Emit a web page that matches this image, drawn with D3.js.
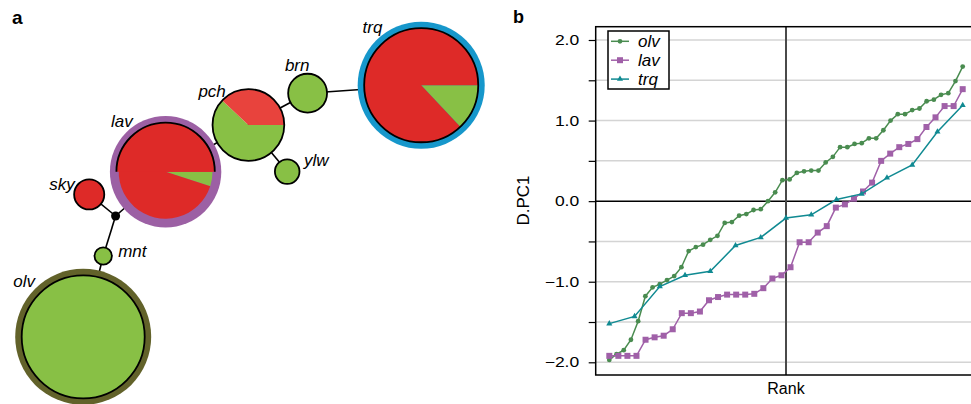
<!DOCTYPE html>
<html>
<head>
<meta charset="utf-8">
<script src="https://cdn.jsdelivr.net/npm/d3@7"></script>
<style>
body{margin:0;background:#fff;}
text{font-family:"Liberation Sans", Arial, Helvetica, sans-serif;}
</style>
</head>
<body>
<div id="chart"></div>
<script>
// panel a: haplotype network data
var nodeNames  = ["olv", "mnt", "sky", "lav", "pch", "ylw", "brn", "trq"];
var nodeCounts = [50, 1, 3, 32, 17, 2, 5, 43];
var greenShare = [1, 1, 0, 0.05, 0.62, 1, 1, 0.13];
// graph layout (layout units)
var layoutX = [20.8, 25.8, 22.3, 41.4, 62.1, 71.8, 76.9, 105.3];
var layoutY = [84.2, 64.0, 48.6, 42.95, 31.25, 42.9, 23.3, 21.3];
var junction = [28.9, 54.0];
var edges = [["olv","mnt"], ["mnt","*"], ["*","sky"], ["*","lav"], ["lav","pch"], ["pch","ylw"], ["pch","brn"], ["brn","trq"]];

// panel b: D.PC1 by rank
var seriesNames = ["olv", "lav", "trq"];
var olvValues = [-1.97, -1.90, -1.85, -1.72, -1.49, -1.18, -1.07, -1.03, -0.98, -0.93,
                 -0.82, -0.62, -0.57, -0.54, -0.48, -0.43, -0.27, -0.26, -0.18, -0.16,
                 -0.11, -0.10, 0.00, 0.11, 0.26, 0.27, 0.35, 0.37, 0.38, 0.38,
                 0.48, 0.55, 0.67, 0.67, 0.71, 0.72, 0.78, 0.78, 0.88, 1.00,
                 1.08, 1.08, 1.13, 1.15, 1.24, 1.26, 1.32, 1.34, 1.49, 1.67];
var lavValues = [-1.92, -1.92, -1.92, -1.92, -1.72, -1.69, -1.67, -1.59, -1.39, -1.39,
                 -1.37, -1.23, -1.19, -1.16, -1.16, -1.16, -1.15, -1.08, -0.96, -0.92,
                 -0.82, -0.51, -0.51, -0.39, -0.31, -0.08, -0.04, 0.03, 0.12, 0.23,
                 0.50, 0.59, 0.67, 0.71, 0.77, 0.92, 1.04, 1.18, 1.18, 1.39];
var trqValues = [-1.52, -1.43, -1.06, -0.92, -0.87, -0.55, -0.45, -0.21, -0.17, 0.02,
                 0.09, 0.29, 0.45, 0.86, 1.19];
var yTicks = [-2, -1.5, -1, -0.5, 0, 0.5, 1, 1.5, 2];

// colours and label placement
var green = "#88c045", red = "#de2a28", pchRed = "#e8433d";
var ringColor = {olv: "#62622a", lav: "#9c60a4", trq: "#1697cb"};
var labelOffset = {trq: [-58.6, -52], brn: [-22.7, -22.6], pch: [-50, -28.3], lav: [-54.7, -45.1],
                   sky: [-40, -4.3], ylw: [16.7, -6], mnt: [15, 0.7], olv: [-70, -49.4]};
var seriesColor = {olv: "#4a8c50", lav: "#a060a8", trq: "#108a92"};
var seriesSymbol = {olv: [d3.symbolCircle, 18], lav: [d3.symbolSquare, 36], trq: [d3.symbolTriangle, 16]};

var svg = d3.select("#chart").append("svg").attr("width", 971).attr("height", 404);

////////////////////
// Panel a network
////////////////////
var netX = d3.scaleLinear().domain([0, 125]).range([0, 500]);
var netY = d3.scaleLinear().domain([0, 101]).range([0, 404]);
var rScale = d3.scaleSqrt().domain([0, 50]).range([0, 61.5]);

function pos(name) {
    if (name == "*") return [netX(junction[0]), netY(junction[1])];
    var i = nodeNames.indexOf(name);
    return [netX(layoutX[i]), netY(layoutY[i])];
}

var gA = svg.append("g");
// edges go behind the nodes
gA.selectAll("line.edge").data(edges).enter().append("line").attr("class", "edge")
  .attr("x1", function(d){ return pos(d[0])[0]; }).attr("y1", function(d){ return pos(d[0])[1]; })
  .attr("x2", function(d){ return pos(d[1])[0]; }).attr("y2", function(d){ return pos(d[1])[1]; })
  .attr("stroke", "#000").attr("stroke-width", 1.6);

gA.append("circle").attr("cx", pos("*")[0]).attr("cy", pos("*")[1]).attr("r", 4.5).attr("fill", "#000");

var pie = d3.pie().sort(null).startAngle(Math.PI / 2).endAngle(Math.PI / 2 + 2 * Math.PI);

for (let i = 0; i < nodeNames.length; i++) {
    var name = nodeNames[i];
    var c = pos(name);
    var r = rScale(nodeCounts[i]);
    var g = gA.append("g").attr("transform", "translate(" + c[0] + "," + c[1] + ")");
    var redCol = name == "pch" ? pchRed : red;

    if (ringColor[name])
        g.append("circle").attr("r", r + 6.5).attr("fill", ringColor[name]);

    var pr = name == "lav" ? r - 2.3 : r;
    var slices = pie([greenShare[i], 1 - greenShare[i]]);
    var arc = d3.arc().innerRadius(0).outerRadius(pr);
    g.selectAll("path.slice").data(slices).enter().append("path").attr("class", "slice")
      .attr("d", arc).attr("fill", function(d, j){ return j == 0 ? green : redCol; });

    if (name == "lav") {
        // upper half drawn full size with outline only on top
        g.append("path").attr("d", d3.arc().innerRadius(0).outerRadius(r).startAngle(-Math.PI / 2).endAngle(Math.PI / 2)())
          .attr("fill", redCol);
        var p = d3.path(); p.arc(0, 0, r, Math.PI, 2 * Math.PI);
        g.append("path").attr("d", p.toString()).attr("fill", "none").attr("stroke", "#000").attr("stroke-width", 1.8);
    } else {
        g.append("circle").attr("r", r).attr("fill", "none").attr("stroke", "#000").attr("stroke-width", 1.8);
    }

    g.append("text").attr("x", labelOffset[name][0]).attr("y", labelOffset[name][1])
      .attr("font-size", 17).attr("font-style", "italic").text(name);
}

svg.append("text").attr("x", 12).attr("y", 24).attr("font-size", 19).attr("font-weight", "bold").text("a");

////////////////////
// Panel b rank plot
////////////////////
var frame = {left: 595.7, top: 26.7, right: 976.3, bottom: 375};
var bx = d3.scaleLinear().domain([0, 1]).range([609.3, 962.7]);
var by = d3.scaleLinear().domain([-2, 2]).range([362.3, 40]);
var gB = svg.append("g");

// gridlines
gB.selectAll("line.grid").data(yTicks.filter(function(v){ return v != 0; })).enter().append("line")
  .attr("class", "grid").attr("x1", frame.left).attr("x2", frame.right)
  .attr("y1", function(d){ return by(d); }).attr("y2", function(d){ return by(d); })
  .attr("stroke", "#d4d4d4").attr("stroke-width", 1.5);
gB.append("line").attr("x1", frame.left).attr("x2", frame.right).attr("y1", by(0)).attr("y2", by(0))
  .attr("stroke", "#000").attr("stroke-width", 1.5);
gB.append("line").attr("x1", bx(0.5)).attr("x2", bx(0.5)).attr("y1", frame.top).attr("y2", frame.bottom)
  .attr("stroke", "#4a4a4a").attr("stroke-width", 2);

// y axis
var fmt = d3.format(".1f");
var yAxis = gB.append("g").attr("transform", "translate(" + frame.left + ",0)")
  .call(d3.axisLeft(by).tickValues(yTicks).tickSize(7)
  .tickFormat(function(d){ return Math.abs(d % 1) > 0 ? "" : fmt(d); }));
yAxis.select(".domain").remove();
yAxis.selectAll(".tick line").attr("stroke", "#000").attr("stroke-width", 1.2);
yAxis.selectAll(".tick text").attr("x", 0).attr("transform", "translate(-16.5,0) scale(1.25,1)")
  .attr("font-size", 14).attr("font-family", "Liberation Sans, Arial, sans-serif").attr("fill", "#000");

// series
var allValues = {olv: olvValues, lav: lavValues, trq: trqValues};
seriesNames.forEach(function(s) {
    var vals = allValues[s];
    var n = vals.length;
    var pts = vals.map(function(v, i){ return [bx(i / (n - 1)), by(v)]; });
    gB.append("path").datum(pts).attr("d", d3.line()).attr("fill", "none")
      .attr("stroke", seriesColor[s]).attr("stroke-width", 1.5);
    gB.selectAll("path.m" + s).data(pts).enter().append("path").attr("class", "m" + s)
      .attr("transform", function(d){ return "translate(" + d[0] + "," + d[1] + ")"; })
      .attr("d", d3.symbol().type(seriesSymbol[s][0]).size(seriesSymbol[s][1]))
      .attr("fill", seriesColor[s]);
});

// frame
gB.append("rect").attr("x", frame.left).attr("y", frame.top)
  .attr("width", frame.right - frame.left).attr("height", frame.bottom - frame.top)
  .attr("fill", "none").attr("stroke", "#000").attr("stroke-width", 1.5);

// legend
var lg = gB.append("g");
lg.append("rect").attr("x", 608).attr("y", 31).attr("width", 61).attr("height", 58)
  .attr("fill", "#fff").attr("stroke", "#000").attr("stroke-width", 1.5);
seriesNames.forEach(function(s, i) {
    var ly = 41.3 + i * 18.9;
    lg.append("line").attr("x1", 611).attr("x2", 629).attr("y1", ly).attr("y2", ly)
      .attr("stroke", seriesColor[s]).attr("stroke-width", 1.5);
    lg.append("path").attr("transform", "translate(620," + ly + ")")
      .attr("d", d3.symbol().type(seriesSymbol[s][0]).size(seriesSymbol[s][1]))
      .attr("fill", seriesColor[s]);
    lg.append("text").attr("x", 638).attr("y", ly + 6).attr("font-size", 17)
      .attr("font-style", "italic").text(s);
});

// axis titles
svg.append("text").attr("x", bx(0.5)).attr("y", 394).attr("text-anchor", "middle")
  .attr("font-size", 16).text("Rank");
svg.append("text").attr("transform", "translate(529,200.5) rotate(-90)").attr("text-anchor", "middle")
  .attr("font-size", 17).text("D.PC1");
svg.append("text").attr("x", 513).attr("y", 23).attr("font-size", 18).attr("font-weight", "bold").text("b");
</script>
</body>
</html>
